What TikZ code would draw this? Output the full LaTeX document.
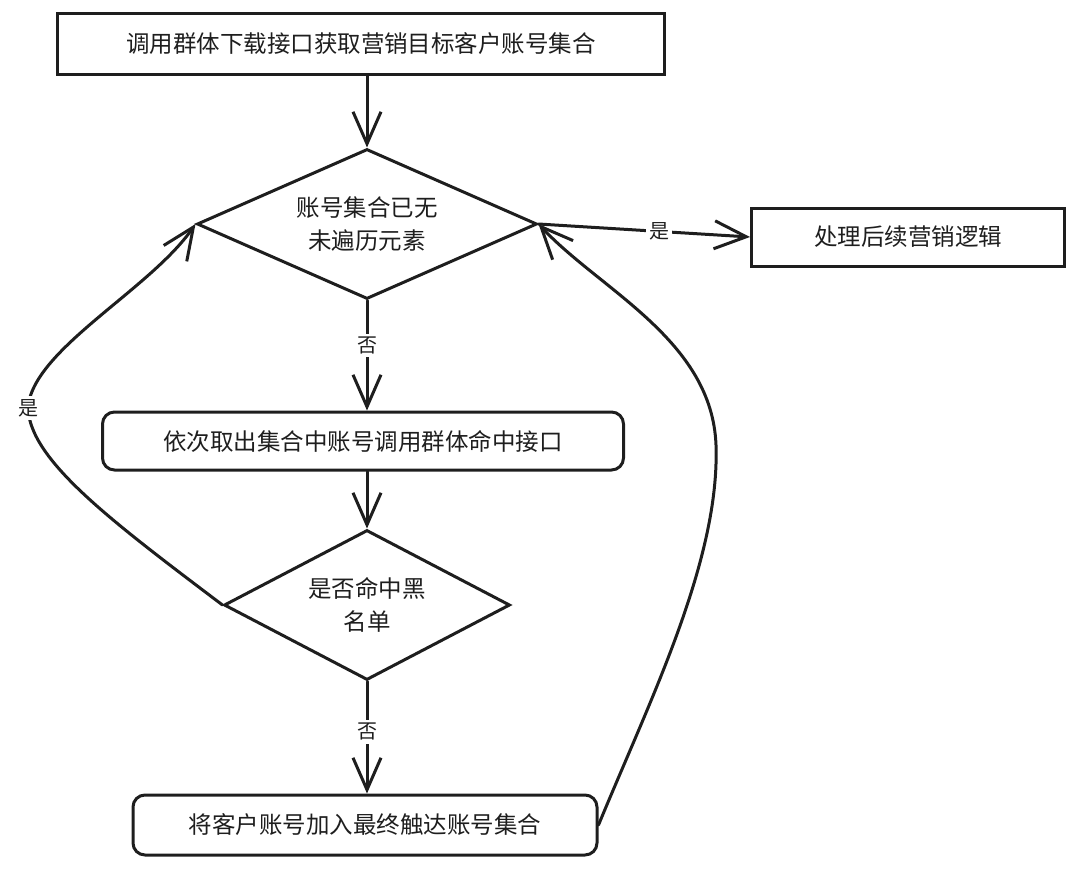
\documentclass[tikz,border=0pt]{standalone}
\usepackage{fontspec}
\setmainfont{Noto Sans CJK SC}
\usetikzlibrary{shapes.geometric,arrows.meta}
\definecolor{ink}{HTML}{1E1E1E}
\begin{document}
\begin{tikzpicture}[x=1pt,y=-1pt]
\tikzstyle{every node}=[text=ink,font=\fontsize{23.5}{33}\selectfont]
\tikzstyle{plainbox}=[draw=ink,line width=3pt,inner sep=0pt]
\tikzstyle{roundbox}=[plainbox,rounded corners=12pt]
\tikzstyle{decision}=[draw=ink,line width=3pt,diamond,inner sep=0pt,align=center]
\tikzstyle{flow}=[draw=ink,line width=3pt,line cap=round,-{Straight Barb[length=32pt,width=28pt]}]
\tikzstyle{answer}=[fill=white,inner sep=3pt,font=\fontsize{20}{20}\selectfont]
\useasboundingbox (0,0) rectangle (1080,871);
\node[plainbox,minimum width=607pt,minimum height=61pt] (fetchnode) at (361,44) {调用群体下载接口获取营销目标客户账号集合};
\node[decision,aspect=2.27,minimum width=340pt,minimum height=150pt] (emptynode) at (367,224) {账号集合已无\\未遍历元素};
\node[plainbox,minimum width=313pt,minimum height=58pt] (nextnode) at (908,237) {处理后续营销逻辑};
\node[roundbox,minimum width=521pt,minimum height=58pt] (hitnode) at (363,441) {依次取出集合中账号调用群体命中接口};
\node[decision,aspect=1.9,minimum width=286pt,minimum height=150pt] (blacknode) at (367,605) {是否命中黑\\名单};
\node[roundbox,minimum width=464pt,minimum height=60pt] (addnode) at (365,825) {将客户账号加入最终触达账号集合};

\draw[flow] (fetchnode.south -| emptynode.north) -- (emptynode.north);
\draw[flow] (emptynode.east) -- node[answer,pos=0.57] {是} (nextnode.west);
\draw[flow] (emptynode.south) -- node[answer,pos=0.41] {否} (hitnode.north -| emptynode.south);
\draw[flow] (hitnode.south -| blacknode.north) -- (blacknode.north);
\draw[flow] (blacknode.south) -- node[answer,pos=0.45] {否} (addnode.north -| blacknode.south);
\draw[flow] (blacknode.west) .. controls (110,520) and (30,460) .. node[answer,pos=1] {是} (28,408)
	.. controls (32,350) and (150,290) .. (emptynode.west);
\draw[flow] (addnode.east) .. controls (650,700) and (720,560) .. (716,445)
	.. controls (712,340) and (600,290) .. (emptynode.east);
\end{tikzpicture}
\end{document}
